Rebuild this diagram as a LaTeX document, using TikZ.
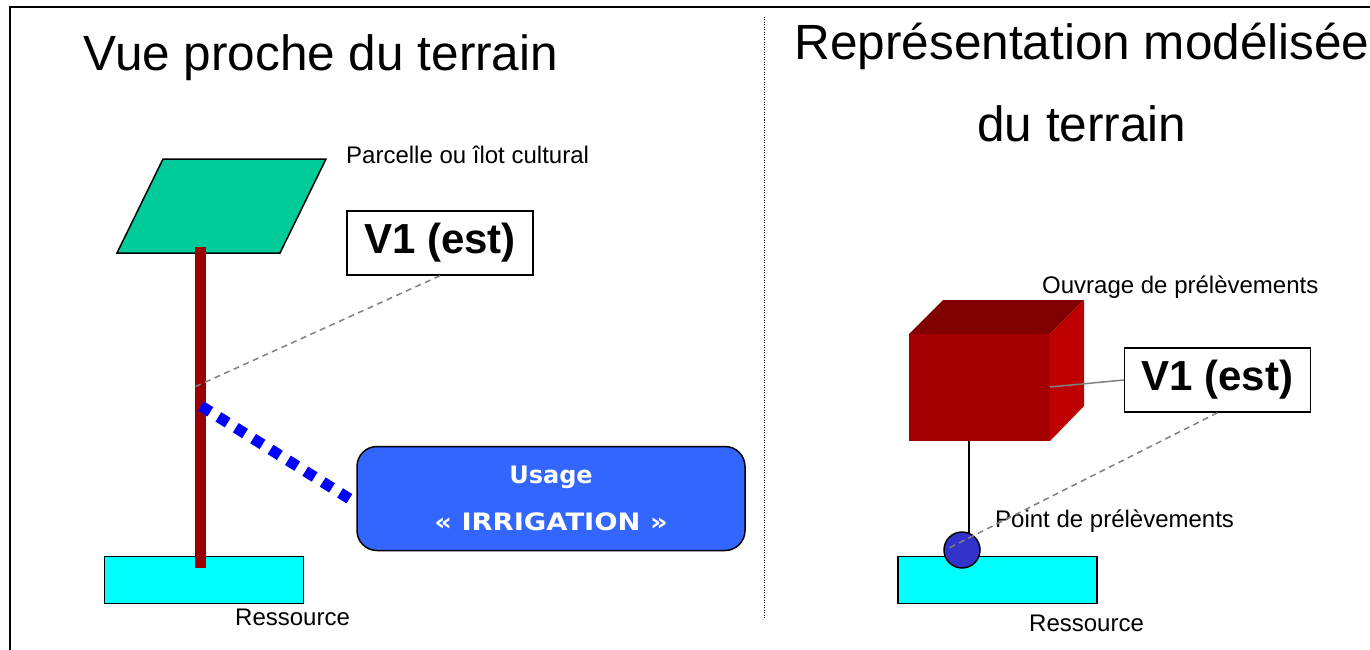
\documentclass[tikz,border=0pt]{standalone}
\usepackage{fontspec}
\setmainfont{Liberation Sans}
\newfontfamily\usagefont{DejaVu Sans}
\newfontfamily\usagewide{DejaVu Sans}[FakeStretch=1.14]
\definecolor{parcel}{HTML}{00CC99}
\definecolor{pole}{HTML}{990000}
\definecolor{ressource}{HTML}{00FFFF}
\definecolor{usageblue}{HTML}{3366FF}
\definecolor{cubefront}{HTML}{A50000}
\definecolor{cubetop}{HTML}{800000}
\definecolor{cuberight}{HTML}{BF0000}
\definecolor{ptblue}{HTML}{3333CC}
\definecolor{leader}{HTML}{808080}
\begin{document}
\begin{tikzpicture}[x=1pt,y=-1pt,
  title/.style={font=\fontsize{49.5}{58}\selectfont, inner sep=0pt, anchor=base},
  label/.style={font=\fontsize{24}{28}\selectfont, inner sep=0pt, anchor=base west},
  vbox/.style={draw, fill=white, line width=1.5pt, minimum width=186pt, minimum height=64pt, inner sep=0pt, font=\fontsize{42}{48}\selectfont\bfseries},
  resbox/.style={draw, fill=ressource, line width=1.5pt, minimum width=199pt, minimum height=47pt, inner sep=0pt},
  dashlead/.style={draw=leader, line width=1.5pt, dash pattern=on 6pt off 4.5pt},
]
\useasboundingbox (0,0) rectangle (1370,650);
% frame
\draw[line width=1.5pt] (10,650) -- (10,7) -- (1370,7);
% divider
\draw[line width=0.8pt, dash pattern=on 1pt off 1.5pt] (764,17) -- (764,619);

% ---------- left ----------
\node[title] (t1) at (321,71) {Vue proche du terrain};
\draw[fill=parcel, line width=1.5pt] (163,159) -- (326,159) -- (280,253) -- (117,253) -- cycle;
\node[label] (lparc) at (346,163) {Parcelle ou îlot cultural};
\node[resbox] (resL) at (204,580) {};
\node[label] (lresL) at (235,625) {Ressource};
\coordinate (poletop) at (200,247);
\coordinate (polebot) at (200,568);
\fill[pole] ([xshift=-5.5pt]poletop) rectangle ([xshift=5.5pt]polebot);
\node[vbox] (v1L) at (440,243) {V1 (est)};
\coordinate (poleA) at (194.5,387);
\draw[dashlead] (v1L.south) -- (poleA);
\node[draw, fill=usageblue, rounded corners=20pt, line width=1.5pt, minimum width=388pt, minimum height=104pt, inner sep=0pt,
      text=white, align=center, font=\bfseries\fontsize{24}{47}\selectfont] (usage) at (551,498.5)
      {{\usagefont Usage}\\{\usagewide « IRRIGATION »}};
\coordinate (poleB) at (201,406);
\draw[blue, line width=11pt, dash pattern=on 11pt off 9.5pt] (poleB) -- (usage.west |- 0,503);

% ---------- right ----------
\node[title] (t2) at (1082,60) {Représentation modélisée};
\node[title] (t3) at (1082,142) {du terrain};
\node[label] (louv) at (1042,293) {Ouvrage de prélèvements};
\fill[cubetop] (909,334) -- (943,300) -- (1084,300) -- (1050,334) -- cycle;
\fill[cuberight] (1050,334) -- (1084,300) -- (1084,406) -- (1050,441) -- cycle;
\fill[cubefront] (909,334) rectangle (1050,441);
\coordinate (cubebot) at (969,441);
\coordinate (cubeside) at (1050,387);
\node[vbox] (v1R) at (1217.5,380) {V1 (est)};
\draw[leader, line width=1.5pt] (cubeside) -- (v1R.west);
\node[resbox] (resR) at (997.5,580) {};
\node[label] (lresR) at (1029,631) {Ressource};
\draw[line width=1.5pt] (cubebot) -- (969,535);
\node[circle, draw, fill=ptblue, line width=1.5pt, minimum size=36pt, inner sep=0pt] (pt) at (962,550) {};
\node[label] (lpt) at (995,527) {Point de prélèvements};
\coordinate (ptin) at (949,548);
\draw[dashlead] (v1R.south) -- (ptin);
\end{tikzpicture}
\end{document}
